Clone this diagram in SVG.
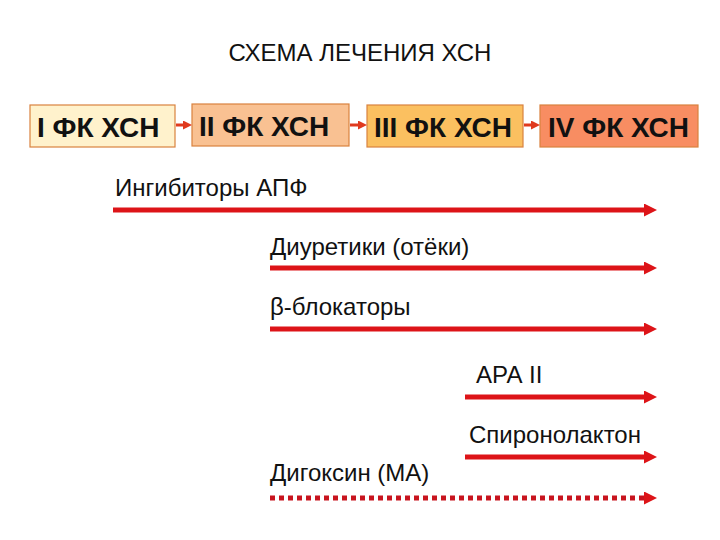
<svg xmlns="http://www.w3.org/2000/svg" width="720" height="540" viewBox="0 0 720 540">
<defs>
<style>
.box{stroke:#D9823F;stroke-width:1.2}
.bt{font-family:"Liberation Sans",Arial,sans-serif;font-weight:bold;font-size:28px;fill:#111}
.lb{font-family:"Liberation Sans",Arial,sans-serif;font-size:24px;fill:#111}
.ar{stroke:#DD1418;stroke-width:5;fill:none}
.dot{stroke:#C8141E;stroke-width:5;fill:none;stroke-dasharray:5 4}
.sm{stroke:#E03A1E;stroke-width:3;fill:none}
</style>
<marker id="ah" viewBox="0 0 10 10" refX="0" refY="5" markerWidth="2.6" markerHeight="2.6" orient="auto" markerUnits="strokeWidth">
<path d="M0,0 L10,5 L0,10 Z" fill="#DD1418"/>
</marker>
<marker id="as" viewBox="0 0 10 10" refX="0" refY="5" markerWidth="3" markerHeight="3" orient="auto" markerUnits="strokeWidth">
<path d="M0,0 L10,5 L0,10 Z" fill="#E03A1E"/>
</marker>
</defs>
<rect width="720" height="540" fill="#fff"/>
<text class="lb" x="360" y="61" text-anchor="middle">СХЕМА ЛЕЧЕНИЯ ХСН</text>
<g id="n1"><rect class="box" x="30" y="105" width="145" height="42" fill="#FFF2CC"/><text class="bt" x="37" y="137">I ФК ХСН</text></g>
<g id="n2"><rect class="box" x="192" y="104" width="157" height="42" fill="#F9C192"/><text class="bt" x="199" y="136">II ФК ХСН</text></g>
<g id="n3"><rect class="box" x="367" y="105" width="156" height="42" fill="#FBC060"/><text class="bt" x="374" y="137">III ФК ХСН</text></g>
<g id="n4"><rect class="box" x="540" y="105" width="158" height="42" fill="#F88D62"/><text class="bt" x="548" y="137">IV ФК ХСН</text></g>
<g id="connectors">
<line class="sm" x1="176" y1="125" x2="183" y2="125" marker-end="url(#as)"/>
<line class="sm" x1="350" y1="125" x2="358" y2="125" marker-end="url(#as)"/>
<line class="sm" x1="524" y1="125" x2="531" y2="125" marker-end="url(#as)"/>
</g>
<g id="therapies">
<text class="lb" x="115" y="196">Ингибиторы АПФ</text>
<line class="ar" x1="113" y1="210" x2="644" y2="210" marker-end="url(#ah)"/>
<text class="lb" x="270" y="255">Диуретики (отёки)</text>
<line class="ar" x1="270" y1="268" x2="644" y2="268" marker-end="url(#ah)"/>
<text class="lb" x="270" y="315">β-блокаторы</text>
<line class="ar" x1="270" y1="329" x2="644" y2="329" marker-end="url(#ah)"/>
<text class="lb" x="476" y="383">АРА II</text>
<line class="ar" x1="465" y1="397" x2="644" y2="397" marker-end="url(#ah)"/>
<text class="lb" x="469" y="443">Спиронолактон</text>
<line class="ar" x1="465" y1="457" x2="644" y2="457" marker-end="url(#ah)"/>
<text class="lb" x="270" y="481">Дигоксин (МА)</text>
<line class="dot" x1="270" y1="498" x2="644" y2="498" marker-end="url(#ah)"/>
</g>
</svg>
